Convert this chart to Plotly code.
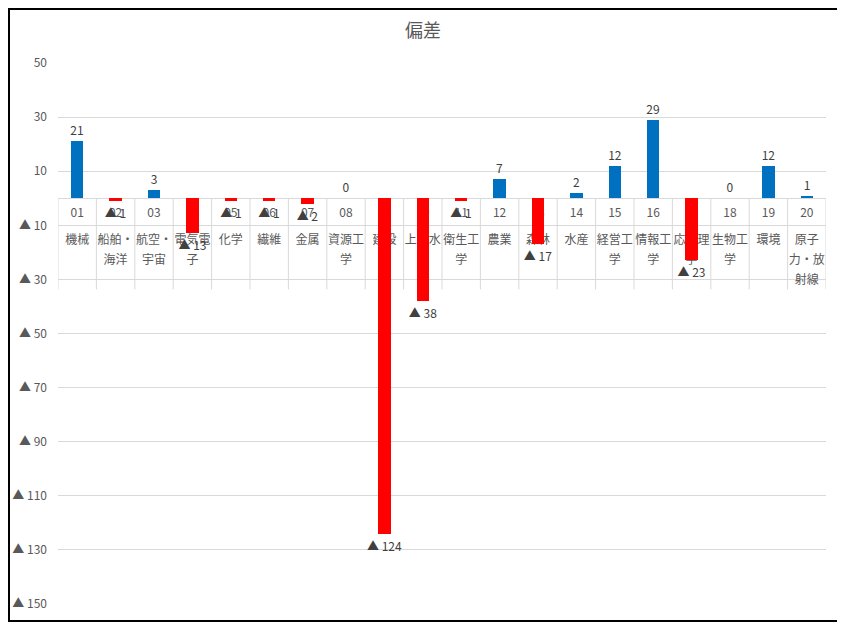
import plotly.graph_objects as go

codes = ["01", "02", "03", "04", "05", "06", "07", "08", "09", "10",
         "11", "12", "13", "14", "15", "16", "17", "18", "19", "20"]
name_line1 = ["機械", "船舶・", "航空・", "電気電", "化学", "繊維", "金属", "資源工", "建設", "上下水",
              "衛生工", "農業", "森林", "水産", "経営工", "情報工", "応用理", "生物工", "環境", "原子"]
name_line2 = ["", "海洋", "宇宙", "子", "", "", "", "学", "", "道",
              "学", "", "", "", "学", "学", "学", "学", "", "力・放"]
name_line3 = ["", "", "", "", "", "", "", "", "", "",
              "", "", "", "", "", "", "", "", "", "射線"]
deviation = [21, -1, 3, -13, -1, -1, -2, 0, -124, -38,
             -1, 7, -17, 2, 12, 29, -23, 0, 12, 1]
y_ticks = [50, 30, 10, -10, -30, -50, -70, -90, -110, -130, -150]

GRAY = "#595959"
GRID = "#D9D9D9"
FONT = "Noto Sans CJK JP"

# page body has an 8px margin, so the figure is drawn 8px smaller
W, H = 837, 619


def fmt(v):
    return f"{v}" if v >= 0 else f"▲ {-v}"


xs = list(range(len(codes)))
colors = ["#0070C0" if v >= 0 else "#FF0000" for v in deviation]

fig = go.Figure()
fig.add_trace(go.Bar(
    x=xs, y=deviation, width=0.32,
    marker=dict(color=colors, line=dict(width=0)),
    text=[fmt(v) for v in deviation],
    textposition="outside",
    constraintext="none",
    cliponaxis=False,
    textfont=dict(family=FONT, size=12, color="#404040"),
    hoverinfo="skip",
    showlegend=False,
))

# category table rows drawn as axes below the bars
rows = [(codes, 6), (name_line1, 33), (name_line2, 53), (name_line3, 73)]
axis_common = dict(
    range=[-0.5, len(codes) - 0.5], tickmode="array", tickvals=xs,
    showgrid=False, zeroline=False, showline=False, ticks="",
    layer="below traces", anchor="free", position=150 / 200, automargin=False,
    tickfont=dict(family=FONT, size=12, color=GRAY), tickangle=0,
)
for i, (labels, standoff) in enumerate(rows):
    key = "xaxis" if i == 0 else f"xaxis{i + 1}"
    ax = dict(axis_common, ticktext=labels, ticklabelstandoff=standoff)
    if i > 0:
        ax["overlaying"] = "x"
    fig.update_layout(**{key: ax})
    if i > 0:
        fig.add_trace(go.Scatter(x=[None], y=[None], xaxis=f"x{i + 1}", showlegend=False,
                                 hoverinfo="skip"))

# vertical separators of the table
for k in range(len(codes) + 1):
    fig.add_shape(type="line", xref="x", yref="y", x0=k - 0.5, x1=k - 0.5, y0=0, y1=-33.7,
                  line=dict(color=GRID, width=1), layer="below")

# outer frame
fig.add_shape(type="rect", xref="paper", yref="paper",
              x0=-0.0638, x1=1.0195, y0=-0.0314, y1=1.0998,
              line=dict(color="black", width=2), layer="above")

fig.update_layout(
    width=W, height=H,
    margin=dict(l=50, r=19, t=55, b=23),
    paper_bgcolor="white", plot_bgcolor="white",
    font=dict(family=FONT, color=GRAY),
    title=dict(text="偏差", x=415 / W, xanchor="center", y=1 - 23 / H, yanchor="middle",
               font=dict(family=FONT, size=18, color=GRAY)),
    yaxis=dict(
        range=[-150, 50], tickmode="array", tickvals=y_ticks,
        ticktext=[fmt(v) for v in y_ticks],
        showgrid=True, gridcolor=GRID, gridwidth=1,
        zeroline=True, zerolinecolor=GRID, zerolinewidth=1,
        showline=False, ticks="", ticklabelstandoff=10, automargin=False,
        tickfont=dict(family=FONT, size=12, color=GRAY),
    ),
    bargap=0,
)

fig.write_html("out.html")
